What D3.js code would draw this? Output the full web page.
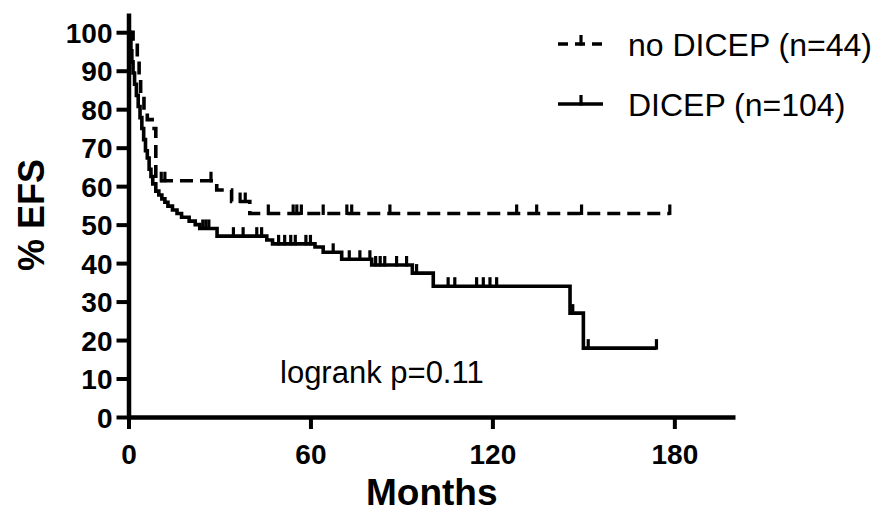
<!DOCTYPE html>
<html>
<head>
<meta charset="utf-8">
<script src="https://cdn.jsdelivr.net/npm/d3@7/dist/d3.min.js"></script>
<style>
  html, body { margin: 0; padding: 0; background: #fff; }
  svg { display: block; font-family: "Liberation Sans", Arial, sans-serif; }
</style>
</head>
<body>
<div id="chart"></div>
<script>
// ---- Data (months, % EFS) ----
const noDicepSteps = [[0, 100], [1.5, 97.7], [2.9, 93.2], [3.5, 88.6], [4.0, 84.1], [5.1, 79.5],
  [6.2, 77.3], [7.8, 75.0], [9.0, 61.4], [29.1, 59.0], [34.0, 56.0], [40.0, 52.9]];
const noDicepEnd = 178.5;
const noDicepCensored = [10.8, 12.0, 27.2, 36.8, 38.5, 46.1, 54.3, 55.5, 57.0, 64.2, 72.0, 73.6,
  86.2, 128.0, 134.6, 149.4, 178.5];

const dicepSteps = [[0, 100], [0.5, 98.1], [0.8, 95.2], [1.1, 92.3], [1.5, 89.4], [2.0, 86.5],
  [2.6, 83.6], [3.2, 80.7], [3.8, 77.8], [4.4, 75.0], [5.0, 72.1], [5.6, 69.2], [6.2, 67.3],
  [6.8, 64.4], [7.4, 62.5], [8.0, 60.6], [9.0, 58.7], [10.0, 57.7], [11.0, 56.7], [12.0, 55.8],
  [13.0, 54.8], [14.5, 53.8], [16.0, 52.9], [17.5, 51.9], [20.0, 50.9], [22.0, 50.0], [23.5, 49.0],
  [29.2, 47.0], [45.6, 46.0], [47.5, 45.0], [61.5, 44.2], [64.2, 42.8], [70.3, 41.0], [80.2, 39.5],
  [93.6, 37.4], [100.5, 34.0], [145.6, 27.0], [150.0, 17.9]];
const dicepEnd = 174.1;
const dicepCensored = [24.5, 25.5, 26.5, 34.6, 37.8, 42.3, 43.9, 49.5, 51.5, 53.5, 55.0, 58.5,
  60.0, 67.5, 72.8, 76.3, 79.6, 81.5, 83.0, 84.5, 88.4, 91.7, 95.0, 105.4, 107.6, 114.8, 117.0,
  119.2, 121.4, 146.5, 151.6, 174.1];

const xTicks = [0, 60, 120, 180];
const yTicks = [0, 10, 20, 30, 40, 50, 60, 70, 80, 90, 100];
const legendLabels = ["no DICEP (n=44)", "DICEP (n=104)"];
const pValueLabel = "logrank p=0.11";

// ---- Setup ----
const W = 885, H = 515;
const svg = d3.select("#chart").append("svg").attr("width", W).attr("height", H);

const x = d3.scaleLinear().domain([0, 200]).range([128.5, 735]);
const y = d3.scaleLinear().domain([0, 105]).range([417, 13]);

// value of a step curve at time t
function valueAt(steps, t) {
  let v = steps[0][1];
  steps.forEach(s => { if (s[0] <= t) v = s[1]; });
  return v;
}

const line = d3.line()
  .x(d => x(d[0]))
  .y(d => y(d[1]))
  .curve(d3.curveStepAfter);

function drawCurve(steps, end, censored, dashed) {
  const pts = steps.concat([[end, steps[steps.length - 1][1]]]);
  svg.append("path")
    .attr("d", line(pts))
    .attr("fill", "none")
    .attr("stroke", "#000")
    .attr("stroke-width", 3.6)
    .attr("stroke-dasharray", dashed ? "13,7" : null);

  svg.append("g").selectAll("line")
    .data(censored)
    .join("line")
    .attr("x1", d => x(d)).attr("x2", d => x(d))
    .attr("y1", d => y(valueAt(steps, d)) + 1.5)
    .attr("y2", d => y(valueAt(steps, d)) - 9)
    .attr("stroke", "#000")
    .attr("stroke-width", 3.2);
}

drawCurve(noDicepSteps, noDicepEnd, noDicepCensored, true);
drawCurve(dicepSteps, dicepEnd, dicepCensored, false);

// ---- Axes ----
const xAxis = svg.append("g")
  .attr("transform", `translate(0,${y(0)})`)
  .call(d3.axisBottom(x).tickValues(xTicks).tickSize(12).tickSizeOuter(0).tickPadding(14));

const yAxis = svg.append("g")
  .attr("transform", `translate(${x(0)},0)`)
  .call(d3.axisLeft(y).tickValues(yTicks).tickSize(12).tickSizeOuter(0).tickPadding(4));

[xAxis, yAxis].forEach(g => {
  g.select(".domain").attr("stroke-width", 4.5).attr("stroke", "#000");
  g.selectAll(".tick line").attr("stroke-width", 4).attr("stroke", "#000");
  g.selectAll(".tick text")
    .attr("fill", "#000")
    .style("font-size", "28px")
    .style("font-weight", "bold")
    .style("font-family", "'Liberation Sans', Arial, sans-serif");
});
xAxis.selectAll(".tick text").attr("dy", "0.75em");
yAxis.selectAll(".tick text").attr("dy", "0.36em");

svg.append("text")
  .attr("x", (x(0) + x(200)) / 2).attr("y", 505)
  .attr("text-anchor", "middle")
  .style("font-size", "37px").style("font-weight", "bold")
  .text("Months");

svg.append("text")
  .attr("transform", `translate(44,${(y(0) + y(105)) / 2}) rotate(-90)`)
  .attr("text-anchor", "middle")
  .style("font-size", "36px").style("font-weight", "bold")
  .text("% EFS");

// ---- p value ----
svg.append("text")
  .attr("x", 280).attr("y", 383)
  .style("font-size", "31px")
  .text(pValueLabel);

// ---- Legend ----
const legendY = [44, 104];
legendLabels.forEach((label, i) => {
  const ly = legendY[i];
  svg.append("line")
    .attr("x1", 558).attr("x2", 603).attr("y1", ly).attr("y2", ly)
    .attr("stroke", "#000").attr("stroke-width", 3.6)
    .attr("stroke-dasharray", i === 0 ? "10,7" : null);
  svg.append("line")
    .attr("x1", 581).attr("x2", 581).attr("y1", ly + 1.5).attr("y2", ly - 9)
    .attr("stroke", "#000").attr("stroke-width", 3.2);
  svg.append("text")
    .attr("x", 628).attr("y", ly).attr("dy", "0.36em")
    .style("font-size", "32px")
    .text(label);
});
</script>
</body>
</html>
